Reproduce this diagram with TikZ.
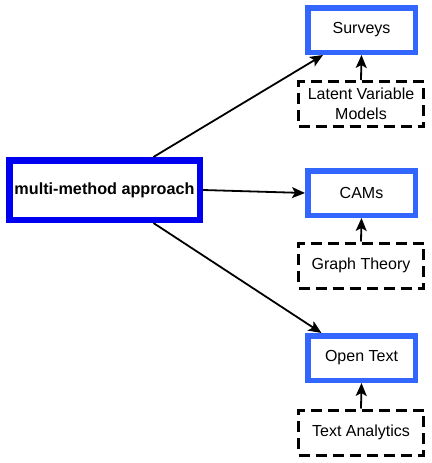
\documentclass[tikz,border=0pt]{standalone}
\usepackage{fontspec}
\setmainfont{Liberation Sans}
\usetikzlibrary{arrows.meta}
\definecolor{mainblue}{RGB}{0,0,240}
\definecolor{boxblue}{RGB}{51,102,255}
\begin{document}
\begin{tikzpicture}[x=1pt,y=-1pt,
  mainbox/.style={draw=mainblue,line width=6.5pt,minimum width=190.5pt,minimum height=59.5pt,inner sep=0pt,font=\fontsize{16.2}{19}\selectfont\bfseries},
  methodbox/.style={draw=boxblue,line width=5.5pt,minimum width=107.5pt,minimum height=44.5pt,inner sep=0pt,font=\fontsize{16}{19}\selectfont},
  toolbox/.style={draw=black,line width=3pt,dash pattern=on 11pt off 6pt,minimum width=125pt,minimum height=45pt,inner sep=0pt,align=center,font=\fontsize{16}{20}\selectfont},
  conn/.style={draw=black,line width=1.8pt,-{Stealth[length=13pt,width=11pt,inset=3pt]}}]
\useasboundingbox (0,0) rectangle (431,463);
\node[mainbox] (main) at (104.5,190) {multi-method approach};
\node[methodbox] (surv) at (361.5,30) {Surveys};
\node[methodbox] (cams) at (361.5,193) {CAMs};
\node[methodbox] (open) at (361.5,358) {Open Text};
\node[toolbox] (lvm) at (361,104) {Latent Variable\\Models};
\node[toolbox] (graph) at (361,265.5) {Graph Theory};
\node[toolbox] (ta) at (361,432.5) {Text Analytics};
\draw[conn] (main.34) -- (surv.213);
\draw[conn] (main.east) -- (cams.west);
\draw[conn] (main.326) -- (open.148);
\draw[conn] (lvm.north) -- (surv.south);
\draw[conn] (graph.north) -- (cams.south);
\draw[conn] (ta.north) -- (open.south);
\end{tikzpicture}
\end{document}
